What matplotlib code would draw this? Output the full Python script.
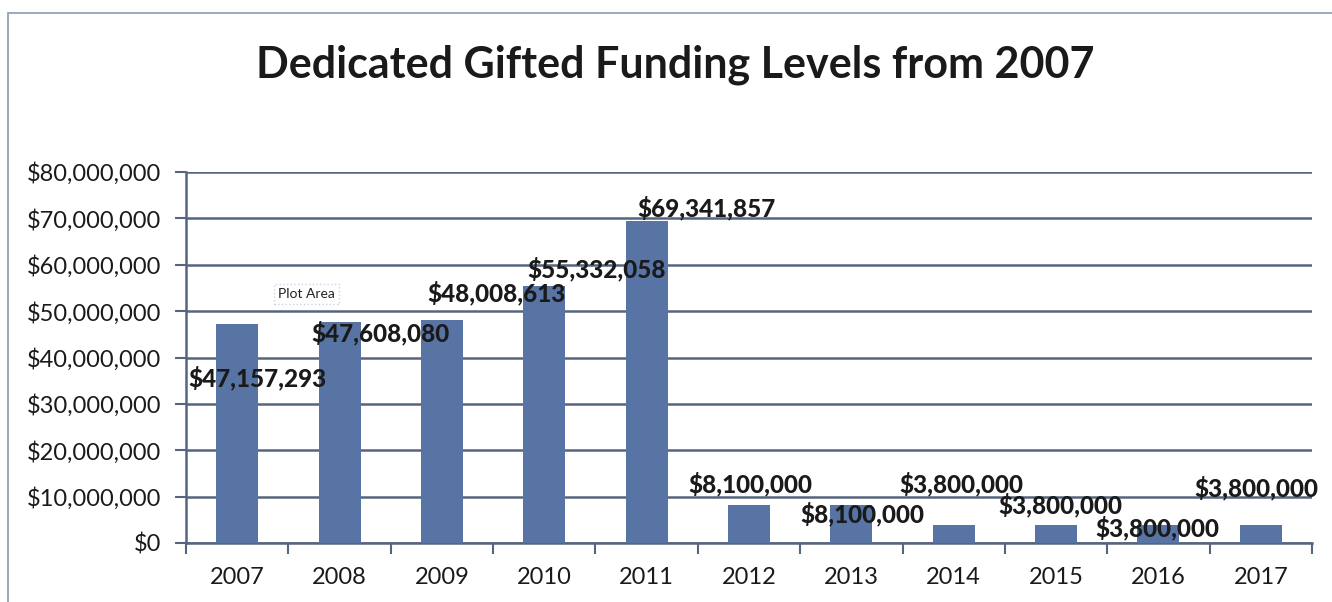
import matplotlib.pyplot as plt
from matplotlib.patches import Rectangle
from matplotlib.ticker import FuncFormatter, MultipleLocator, FixedLocator

years = ['2007', '2008', '2009', '2010', '2011', '2012',
         '2013', '2014', '2015', '2016', '2017']
funding = [47157293, 47608080, 48008613, 55332058, 69341857, 8100000,
           8100000, 3800000, 3800000, 3800000, 3800000]

# label offsets from bar top, in pixels (dx right, dy up) -- scattered as in the original
label_offsets = [(20, -54), (41, -11), (55, 27), (52, 17), (60, 13), (1, 21),
                 (11, -9), (8, 41), (4, 20), (-1, -3), (-4, 37)]

FONT = ['Lato', 'DejaVu Sans']
BAR = '#5874a5'
GRID = '#56657f'
TXT = '#1a1a1a'

plt.rcParams['font.family'] = FONT

fig = plt.figure(figsize=(13.32, 6.02), dpi=100)
ax = fig.add_axes([186 / 1332, 1 - 543 / 602, (1312 - 186) / 1332, (543 - 172) / 602])

x = list(range(len(years)))
ax.bar(x, funding, width=0.41, color=BAR, zorder=3)

ax.set_ylim(0, 80000000)
ax.set_xlim(-0.5, len(years) - 0.5)
ax.yaxis.set_major_locator(MultipleLocator(10000000))
ax.yaxis.set_major_formatter(FuncFormatter(lambda v, p: '${:,.0f}'.format(v)))
ax.grid(axis='y', color=GRID, linewidth=1.8, zorder=0)

ax.set_xticks(x)
ax.set_xticklabels(years)
ax.xaxis.set_minor_locator(FixedLocator([i + 0.5 for i in range(-1, len(years))]))
ax.tick_params(axis='x', which='major', length=0, pad=17, labelsize=17, labelcolor=TXT)
ax.tick_params(axis='x', which='minor', length=8, width=1.5, direction='out', color=GRID)
ax.tick_params(axis='y', length=8, width=1.5, direction='out', color=GRID, pad=10,
               labelsize=17, labelcolor=TXT)

for side in ['top', 'right']:
    ax.spines[side].set_visible(False)
for side in ['left', 'bottom']:
    ax.spines[side].set_color(GRID)
    ax.spines[side].set_linewidth(1.8)

for xi, val, (dx, dy) in zip(x, funding, label_offsets):
    ax.annotate('${:,.0f}'.format(val), xy=(xi, val), xytext=(dx * 0.72, dy * 0.72),
                textcoords='offset points', ha='center', va='center',
                fontsize=17.5, fontweight='black', color=TXT, zorder=5)

# "Plot Area" hover tag left on the original screenshot
ax.text(0.68, 53700000, 'Plot Area', ha='center', va='center', fontsize=10,
        color='#222222', zorder=6,
        bbox=dict(boxstyle='square,pad=0.3', fc='white', ec='#c8d4e6', ls=':', lw=1))

fig.text(675 / 1332, 1 - 65 / 602, 'Dedicated Gifted Funding Levels from 2007',
         ha='center', va='center', fontsize=31, fontweight='bold', color=TXT)

# chart area border
fig.patches.append(Rectangle((8 / 1332, -0.05), 1.1, 1.05 - 13 / 602,
                             transform=fig.transFigure, fill=False,
                             edgecolor='#8a9ab5', linewidth=1.2))

fig.savefig('out.png', dpi=100)
